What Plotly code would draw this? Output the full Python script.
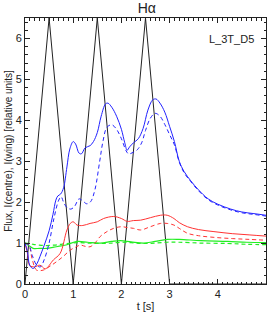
import plotly.graph_objects as go

# Triangle driving signal (black)
t_drive = [0, 0.5, 1.0, 1.5, 2.0, 2.5, 3.0, 5.0]
v_drive = [0, 6.5, 0, 6.5, 0, 6.5, 0, 0]

# Blue: flux (solid) / centre (dashed)
t_blue = [0, 0.05, 0.1, 0.17, 0.25, 0.31, 0.4, 0.5, 0.58, 0.64, 0.68, 0.74, 0.8, 0.87, 0.93, 1.0,
          1.05, 1.12, 1.17, 1.25, 1.35, 1.42, 1.5, 1.58, 1.67, 1.72, 1.8, 1.9, 2.0, 2.07, 2.12,
          2.17, 2.25, 2.35, 2.45, 2.55, 2.65, 2.72, 2.8, 2.9, 3.0, 3.1, 3.2, 3.3, 3.44, 3.6,
          3.8, 4.0, 4.27, 4.5, 4.75, 5.0]
v_blue_solid = [1.0, 0.8, 0.45, 0.38, 0.5, 0.67, 0.95, 1.3, 1.7, 2.05, 2.15, 2.2, 2.35, 2.86, 3.3, 3.48,
                3.42, 3.2, 3.18, 3.33, 3.38, 3.48, 3.7, 4.1, 4.4, 4.42, 4.32, 4.1, 3.78, 3.45, 3.27,
                3.35, 3.45, 3.55, 3.8, 4.25, 4.5, 4.52, 4.42, 4.2, 3.85, 3.48, 3.0, 2.75, 2.52, 2.3,
                2.08, 1.95, 1.83, 1.76, 1.72, 1.68]
t_blue_d = [0, 0.08, 0.15, 0.25, 0.32, 0.4, 0.5, 0.6, 0.7, 0.75, 0.8, 0.87, 0.95, 1.03, 1.12, 1.2,
            1.28, 1.36, 1.45, 1.55, 1.62, 1.7, 1.8, 1.9, 2.0, 2.1, 2.15, 2.25, 2.33, 2.42, 2.5,
            2.6, 2.7, 2.8, 2.9, 3.0, 3.1, 3.2, 3.3, 3.44, 3.6, 3.8, 4.0, 4.27, 4.5, 4.75, 5.0]
v_blue_dash = [1.0, 0.95, 0.7, 0.45, 0.42, 0.6, 1.0, 1.6, 2.05, 2.13, 2.0, 1.87, 1.83, 1.9, 2.08, 2.03,
               1.96, 2.01, 2.3, 3.0, 3.5, 3.83, 3.89, 3.78, 3.55, 3.25, 3.18, 3.22, 3.28, 3.45, 3.75,
               4.05, 4.17, 4.1, 3.9, 3.65, 3.4, 2.98, 2.72, 2.5, 2.28, 2.06, 1.93, 1.81, 1.74, 1.7, 1.66]

# Red
t_red = [0, 0.05, 0.1, 0.2, 0.31, 0.42, 0.59, 0.73, 0.87, 0.94, 1.0, 1.08, 1.2, 1.35, 1.5, 1.63,
         1.84, 2.0, 2.12, 2.25, 2.4, 2.6, 2.81, 2.95, 3.09, 3.2, 3.37, 3.6, 3.92, 4.3, 4.65, 5.0]
v_red_solid = [1.0, 0.75, 0.45, 0.42, 0.46, 0.37, 0.59, 0.75, 1.32, 1.48, 1.52, 1.44, 1.43, 1.48,
               1.52, 1.6, 1.65, 1.6, 1.53, 1.55, 1.56, 1.62, 1.68, 1.68, 1.6, 1.5, 1.4, 1.33, 1.28,
               1.23, 1.2, 1.17]
t_red_d = [0, 0.08, 0.15, 0.24, 0.38, 0.5, 0.66, 0.8, 0.94, 1.05, 1.15, 1.25, 1.35, 1.45, 1.56,
           1.7, 1.84, 2.0, 2.12, 2.25, 2.4, 2.6, 2.81, 2.95, 3.09, 3.2, 3.37, 3.6, 3.92, 4.3, 4.65, 5.0]
v_red_dash = [1.0, 0.95, 0.6, 0.34, 0.34, 0.42, 0.55, 0.68, 0.83, 0.9, 0.95, 0.92, 0.91, 1.0, 1.16,
              1.28, 1.36, 1.4, 1.38, 1.36, 1.32, 1.4, 1.48, 1.48, 1.44, 1.36, 1.24, 1.18, 1.14,
              1.11, 1.09, 1.07]

# Green
t_green = [0, 0.1, 0.17, 0.3, 0.45, 0.6, 0.75, 0.87, 1.08, 1.3, 1.56, 1.8, 1.98, 2.2, 2.46, 2.7,
           2.95, 3.2, 3.65, 4.2, 4.6, 5.0]
v_green_solid = [1.0, 0.92, 0.87, 0.87, 0.87, 0.9, 0.93, 0.96, 1.04, 1.02, 1.0, 1.04, 1.06, 1.03,
                 1.0, 1.04, 1.09, 1.09, 1.06, 1.04, 1.02, 1.01]
v_green_dash = [1.0, 0.99, 0.97, 0.95, 0.94, 0.95, 0.97, 0.99, 1.01, 1.0, 0.99, 1.0, 1.02, 1.01,
                0.99, 1.0, 1.02, 1.02, 1.0, 0.99, 0.97, 0.96]

fig = go.Figure()
fig.add_trace(go.Scatter(x=t_drive, y=v_drive, mode="lines",
                         line=dict(color="#222222", width=1)))
fig.add_trace(go.Scatter(x=t_green, y=v_green_dash, mode="lines", line_shape="spline",
                         line=dict(color="#22ee22", width=1.2, dash="4px,3px")))
fig.add_trace(go.Scatter(x=t_green, y=v_green_solid, mode="lines", line_shape="spline",
                         line=dict(color="#22ee22", width=1.2)))
fig.add_trace(go.Scatter(x=t_red_d, y=v_red_dash, mode="lines", line_shape="spline",
                         line=dict(color="#ff3333", width=1, dash="4px,3px")))
fig.add_trace(go.Scatter(x=t_red, y=v_red_solid, mode="lines", line_shape="spline",
                         line=dict(color="#ff3333", width=1)))
fig.add_trace(go.Scatter(x=t_blue_d, y=v_blue_dash, mode="lines", line_shape="spline",
                         line=dict(color="#2222ff", width=1, dash="4px,3px")))
fig.add_trace(go.Scatter(x=t_blue, y=v_blue_solid, mode="lines", line_shape="spline",
                         line=dict(color="#2222ff", width=1)))

axis_common = dict(showline=True, linecolor="#222222", linewidth=1, mirror="allticks",
                   ticks="inside", tickcolor="#222222", showgrid=False, zeroline=False,
                   automargin=False,
                   tickfont=dict(family="Liberation Sans, Arial", size=11, color="#222222"))
fig.update_xaxes(range=[0, 5], tickvals=[0, 1, 2, 3, 4], ticklen=5,
                 minor=dict(ticks="inside", dtick=0.1, ticklen=2.5, tickcolor="#222222"),
                 title=dict(text="t [s]", standoff=3,
                            font=dict(family="Liberation Sans, Arial", size=11, color="#222222")),
                 **axis_common)
fig.update_yaxes(range=[0, 6.5], tickvals=[0, 1, 2, 3, 4, 5, 6], ticklen=5,
                 minor=dict(ticks="inside", dtick=0.2, ticklen=2.5, tickcolor="#222222"),
                 title=dict(text="Flux, I(centre), I(wing) [relative units]", standoff=1,
                            font=dict(family="Liberation Sans, Arial", size=10, color="#222222")),
                 **axis_common)
fig.update_layout(
    width=267, height=313,
    margin=dict(l=25, r=1, t=18, b=29),
    paper_bgcolor="white", plot_bgcolor="white",
    showlegend=False,
    title=dict(text="Hα", x=0.55, xanchor="center", y=0.99, yanchor="top",
               font=dict(family="Liberation Sans, Arial", size=14, color="#222222")),
    annotations=[dict(text="L_3T_D5", xref="paper", yref="paper", x=0.96, y=0.92,
                      xanchor="right", yanchor="middle", showarrow=False,
                      font=dict(family="Liberation Sans, Arial", size=11, color="#222222"))],
)
fig.write_html("out.html", config={"displayModeBar": False},
               post_script="document.body.style.margin='0px';")
